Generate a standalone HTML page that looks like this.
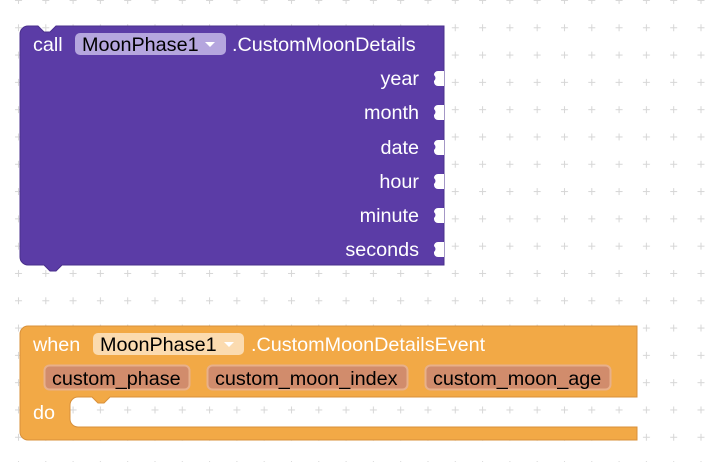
<!DOCTYPE html>
<html><head><meta charset="utf-8"><style>
html,body{margin:0;padding:0;background:#fff}
svg{display:block}
text{font-family:"Liberation Sans",Arial,sans-serif;font-size:19.8px}
</style></head><body>
<svg width="720" height="462" viewBox="0 0 720 462" xmlns="http://www.w3.org/2000/svg">
<defs>
<pattern id="g" x="13.5" y="-4.5" width="27.3" height="27.3" patternUnits="userSpaceOnUse">
<path d="M5 1.5v7M1.5 5h7" stroke="#d6d6d6" stroke-width="1"/>
</pattern>
</defs>
<rect width="720" height="462" fill="url(#g)"/>

<!-- purple block -->
<path d="M28 26 H38 l6 6 h6 l6 -6 H444 V265 H62 l-6 6 h-6 l-6 -6 H28 a8 8 0 0 1 -8 -8 V34 a8 8 0 0 1 8 -8 Z" fill="#5b3ca6" stroke="#4a2f8c" stroke-width="1"/>
<g fill="#fff">
<path d="M444 71 h-6 a4 4 0 0 0 -4 4 v0 q3 3 0 6 v1 a4 4 0 0 0 4 4 h6 Z"/>
<path d="M444 71 h-6 a4 4 0 0 0 -4 4 v0 q3 3 0 6 v1 a4 4 0 0 0 4 4 h6 Z" transform="translate(0,34)"/>
<path d="M444 71 h-6 a4 4 0 0 0 -4 4 v0 q3 3 0 6 v1 a4 4 0 0 0 4 4 h6 Z" transform="translate(0,69)"/>
<path d="M444 71 h-6 a4 4 0 0 0 -4 4 v0 q3 3 0 6 v1 a4 4 0 0 0 4 4 h6 Z" transform="translate(0,103)"/>
<path d="M444 71 h-6 a4 4 0 0 0 -4 4 v0 q3 3 0 6 v1 a4 4 0 0 0 4 4 h6 Z" transform="translate(0,137)"/>
<path d="M444 71 h-6 a4 4 0 0 0 -4 4 v0 q3 3 0 6 v1 a4 4 0 0 0 4 4 h6 Z" transform="translate(0,171)"/>
</g>
<text x="33" y="51" fill="#fff">call</text>
<rect x="75" y="33" width="151" height="22" rx="5" fill="#b5a6de"/>
<text x="82" y="51" fill="#000">MoonPhase1</text>
<path d="M205 42 h10 l-5 5 Z" fill="#fff"/>
<text x="232" y="51" fill="#fff">.CustomMoonDetails</text>
<g fill="#fff" text-anchor="end">
<text x="419" y="85">year</text>
<text x="419" y="119">month</text>
<text x="419" y="154">date</text>
<text x="419" y="188">hour</text>
<text x="419" y="222">minute</text>
<text x="419" y="256">seconds</text>
</g>

<!-- orange block -->
<path d="M28 326 H637 V397 H110 l-6 6 h-6 l-6 -6 H78 a8 8 0 0 0 -8 8 V419 a8 8 0 0 0 8 8 H637 V440 H28 a8 8 0 0 1 -8 -8 V334 a8 8 0 0 1 8 -8 Z" fill="#f2a946" stroke="#d8903a" stroke-width="1"/>
<text x="33" y="351" fill="#fff">when</text>
<rect x="93" y="333" width="151" height="22" rx="5" fill="#fbdbb0"/>
<text x="100" y="351" fill="#000">MoonPhase1</text>
<path d="M224 342 h10 l-5 5 Z" fill="#fff"/>
<text x="251" y="351" fill="#fff">.CustomMoonDetailsEvent</text>
<g>
<rect x="44.5" y="365.5" width="145" height="24" rx="5" fill="#d18c6c" stroke="#e8b08a" stroke-width="2"/>
<text x="52" y="385" fill="#000">custom_phase</text>
<rect x="207.5" y="365.5" width="200" height="24" rx="5" fill="#d18c6c" stroke="#e8b08a" stroke-width="2"/>
<text x="215" y="385" fill="#000">custom_moon_index</text>
<rect x="425.5" y="365.5" width="185" height="24" rx="5" fill="#d18c6c" stroke="#e8b08a" stroke-width="2"/>
<text x="433" y="385" fill="#000">custom_moon_age</text>
</g>
<text x="33" y="419" fill="#fff">do</text>
</svg>
</body></html>
